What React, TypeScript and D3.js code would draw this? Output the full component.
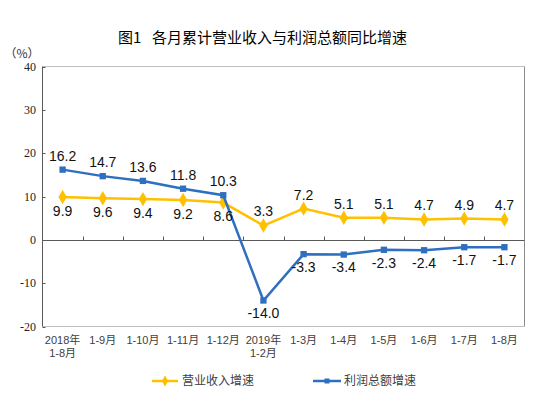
import * as d3 from "d3";

const categories = [
  ["2018年", "1-8月"],
  ["1-9月"],
  ["1-10月"],
  ["1-11月"],
  ["1-12月"],
  ["2019年", "1-2月"],
  ["1-3月"],
  ["1-4月"],
  ["1-5月"],
  ["1-6月"],
  ["1-7月"],
  ["1-8月"],
];
const revenue = [9.9, 9.6, 9.4, 9.2, 8.6, 3.3, 7.2, 5.1, 5.1, 4.7, 4.9, 4.7];
const profit = [16.2, 14.7, 13.6, 11.8, 10.3, -14.0, -3.3, -3.4, -2.3, -2.4, -1.7, -1.7];
const yTicks = [40, 30, 20, 10, 0, -10, -20];

const W = 550;
const H = 397;
const left = 42.5;
const right = 524.5;
const top = 66.5;
const bottom = 326.5;
const YELLOW = "#FFC000";
const BLUE = "#2F6FC0";
const CJK = "'Noto Sans CJK SC', sans-serif";

export default function App() {
  const x = d3
    .scaleBand<number>()
    .domain(d3.range(categories.length))
    .range([left, right]);
  const y = d3.scaleLinear().domain([-20, 40]).range([bottom, top]);
  const cx = (i: number) => (x(i) ?? 0) + x.bandwidth() / 2;
  const line = d3
    .line<number>()
    .x((_, i) => cx(i))
    .y((d) => y(d));
  const diamond = d3.symbol(d3.symbolDiamond, 60)()!;
  const square = d3.symbol(d3.symbolSquare, 40)()!;
  const legDiamond = d3.symbol(d3.symbolDiamond, 35)()!;
  const legSquare = d3.symbol(d3.symbolSquare, 25)()!;
  const y0 = Math.round(y(0)) + 0.5;

  return (
    <svg
      width={W}
      height={H}
      style={{ position: "absolute", left: 0, top: 0, background: "#fff" }}
    >
      <text x={118} y={43} fontSize={15} fontFamily={CJK} fill="#000">
        图1
      </text>
      <text x={152} y={43} fontSize={15} fontFamily={CJK} fill="#000">
        各月累计营业收入与利润总额同比增速
      </text>
      <text x={22} y={58} textAnchor="middle" fontSize={12} fontFamily={CJK} fill="#333">
        （%）
      </text>

      {/* frame */}
      <line x1={left} x2={right} y1={top} y2={top} stroke="#bfbfbf" />
      <line x1={right} x2={right} y1={top} y2={bottom} stroke="#8c8c8c" />
      <line x1={left} x2={right} y1={bottom} y2={bottom} stroke="#bfbfbf" />
      <line x1={left} x2={left} y1={top} y2={bottom} stroke="#595959" />

      {yTicks.map((t) => (
        <g key={t}>
          <line x1={left} x2={left + 3} y1={Math.round(y(t)) + 0.5} y2={Math.round(y(t)) + 0.5} stroke="#595959" />
          <text
            x={36}
            y={y(t)}
            dy="0.35em"
            textAnchor="end"
            fontSize={12}
            fontFamily="'Liberation Serif', serif"
            fill="#222"
          >
            {t}
          </text>
        </g>
      ))}

      {/* zero line with ticks */}
      <line x1={left} x2={right} y1={y0} y2={y0} stroke="#595959" />
      {d3.range(1, categories.length).map((i) => (
        <line
          key={i}
          x1={Math.round(x(i) ?? 0) + 0.5}
          x2={Math.round(x(i) ?? 0) + 0.5}
          y1={y0}
          y2={y0 - 4}
          stroke="#595959"
        />
      ))}

      {categories.flatMap((c, i) =>
        c.map((s, k) => (
          <text
            key={`${i}-${k}`}
            x={cx(i)}
            y={344 + k * 13}
            textAnchor="middle"
            fontSize={11}
            fontFamily="'Liberation Sans', 'Noto Sans CJK SC', sans-serif"
            fill="#404040"
          >
            {s}
          </text>
        ))
      )}

      {/* series */}
      <path d={line(revenue) ?? ""} fill="none" stroke={YELLOW} strokeWidth={2.5} />
      {revenue.map((v, i) => (
        <path key={i} d={diamond} transform={`translate(${cx(i)},${y(v)})`} fill={YELLOW} />
      ))}
      <path d={line(profit) ?? ""} fill="none" stroke={BLUE} strokeWidth={2.5} />
      {profit.map((v, i) => (
        <path key={i} d={square} transform={`translate(${cx(i)},${y(v)})`} fill={BLUE} />
      ))}

      {revenue.map((v, i) => (
        <text
          key={i}
          x={cx(i)}
          y={y(v) + (i < 5 ? 14 : -14)}
          dy="0.35em"
          textAnchor="middle"
          fontSize={14}
          fontFamily="'Liberation Sans', Arial, sans-serif"
          fill="#111"
        >
          {v.toFixed(1)}
        </text>
      ))}
      {profit.map((v, i) => (
        <text
          key={i}
          x={cx(i)}
          y={y(v) + (i < 5 ? -14 : 13)}
          dy="0.35em"
          textAnchor="middle"
          fontSize={14}
          fontFamily="'Liberation Sans', Arial, sans-serif"
          fill="#111"
        >
          {v.toFixed(1)}
        </text>
      ))}

      {/* legend */}
      <line x1={152} x2={178} y1={381} y2={381} stroke={YELLOW} strokeWidth={2.5} />
      <path d={legDiamond} transform="translate(165,381)" fill={YELLOW} />
      <text x={182} y={381} dy="0.35em" fontSize={12} fontFamily={CJK} fill="#404040">
        营业收入增速
      </text>
      <line x1={313} x2={341} y1={381} y2={381} stroke={BLUE} strokeWidth={2.5} />
      <path d={legSquare} transform="translate(327,381)" fill={BLUE} />
      <text x={344} y={381} dy="0.35em" fontSize={12} fontFamily={CJK} fill="#404040">
        利润总额增速
      </text>
    </svg>
  );
}
